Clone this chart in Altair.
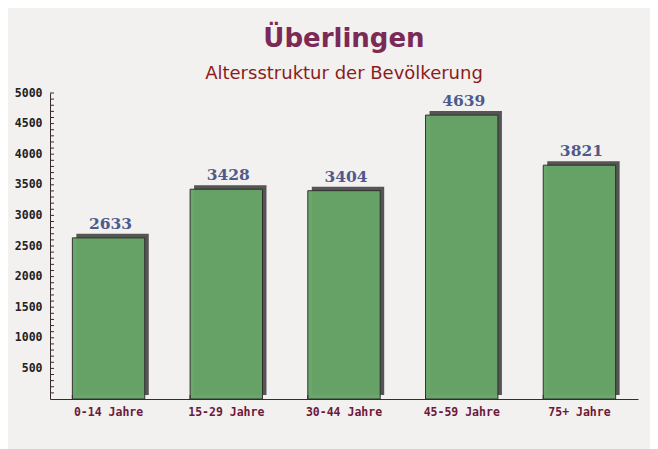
import altair as alt
import pandas as pd

categories = ["0-14 Jahre", "15-29 Jahre", "30-44 Jahre", "45-59 Jahre", "75+ Jahre"]
values = [2633, 3428, 3404, 4639, 3821]
minor_ticks = list(range(100, 5001, 100))

df = pd.DataFrame({"cat": categories, "val": values})
ticks_df = pd.DataFrame({"t": minor_ticks})

W, H = 588, 306

xscale = alt.Scale(domain=categories, paddingInner=0.385, paddingOuter=0.19)
yscale = alt.Scale(domain=[0, 5000], nice=False)

xaxis = alt.Axis(title=None, ticks=False, labelFont="DejaVu Sans Mono",
                 labelFontWeight="bold",
                 labelFontSize=11.5, labelColor="#6b1a3a", labelPadding=7,
                 domainColor="#3a2a30", labelAngle=0)
yaxis = alt.Axis(title=None, values=list(range(500, 5001, 500)), ticks=False,
                 format="d", labelOverlap=False, labelFlush=False,
                 labelFont="DejaVu Sans Mono", labelFontWeight="bold",
                 labelFontSize=11.5, labelColor="#222222", labelPadding=8,
                 domainColor="#3a2a30", grid=False)

x_enc = alt.X("cat:N", scale=xscale, sort=categories, axis=xaxis)
y_enc = alt.Y("val:Q", scale=yscale, axis=yaxis)

base = alt.Chart(df)

shadow = base.mark_bar(color="#555555", xOffset=4, x2Offset=4, yOffset=-4, y2Offset=0).encode(
    x=x_enc, y=y_enc
)
bars = base.mark_bar(color="#67a567", opacity=0.97, stroke="#2e2e2e", strokeWidth=1).encode(
    x=x_enc, y=y_enc
)
labels = base.mark_text(font="DejaVu Serif", fontWeight="bold", fontSize=15.5,
                        color="#4d5a8a", dy=-6, dx=2, baseline="bottom").encode(
    x=x_enc, y=y_enc, text="val:Q"
)
yticks = alt.Chart(ticks_df).mark_rule(color="#3a2a30", strokeWidth=1).encode(
    y=alt.Y("t:Q", scale=yscale, axis=yaxis), x=alt.value(0), x2=alt.value(4)
)
xticks = base.mark_rule(color="#3a2a30", strokeWidth=1).encode(
    x=alt.X("cat:N", scale=xscale, sort=categories, bandPosition=0, axis=xaxis),
    y=alt.value(H - 4), y2=alt.value(H)
)

chart = alt.layer(shadow, bars, labels, yticks, xticks).properties(
    width=W, height=H,
    background="#f3f0f0",
    padding={"left": 6, "top": 18, "right": 12, "bottom": 33},
    title=alt.TitleParams(
        text="Überlingen",
        subtitle="Altersstruktur der Bevölkerung",
        font="DejaVu Sans", fontSize=26, fontWeight="bold", color="#7b2a55",
        subtitleFont="DejaVu Sans", subtitleFontSize=18, subtitleColor="#8b1c1c",
        subtitlePadding=13, offset=4, anchor="middle",
    ),
).configure_view(stroke=None)

chart.save("out.html", embed_options={"renderer": "svg", "actions": False})
